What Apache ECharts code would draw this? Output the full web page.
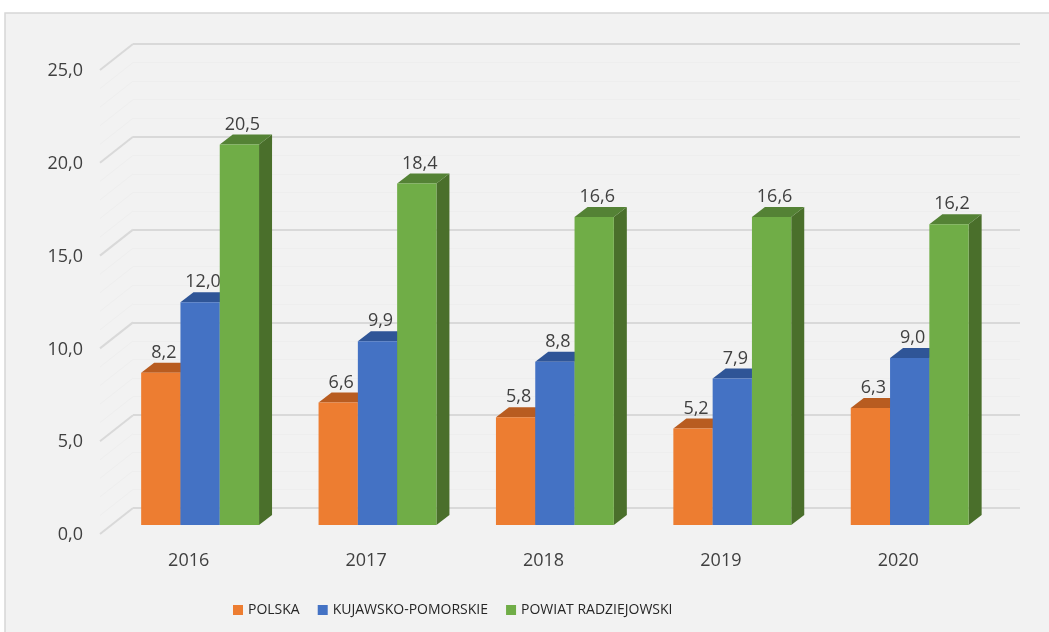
<!DOCTYPE html>
<html>
<head>
<meta charset="utf-8">
<script src="https://cdn.jsdelivr.net/npm/echarts@6/dist/echarts.min.js"></script>
<style>
  html, body { margin: 0; padding: 0; background: #fff; }
  #main { width: 1049px; height: 632px; }
</style>
</head>
<body>
<div id="main"></div>
<script>
// dane z wykresu
const years = ['2016', '2017', '2018', '2019', '2020'];
const polska = [8.2, 6.6, 5.8, 5.2, 6.3];
const kujawskoPomorskie = [12.0, 9.9, 8.8, 7.9, 9.0];
const powiatRadziejowski = [20.5, 18.4, 16.6, 16.6, 16.2];
const seriesNames = ['POLSKA', 'KUJAWSKO-POMORSKIE', 'POWIAT RADZIEJOWSKI'];
const yTicks = [0, 5, 10, 15, 20, 25];
const yMinorTicks = [1, 2, 3, 4, 6, 7, 8, 9, 11, 12, 13, 14, 16, 17, 18, 19, 21, 22, 23, 24];

// kolory: przód, góra, bok
const faceColors = [
  ['#ed7d31', '#b85c20', '#a4511b'],
  ['#4472c4', '#2f5597', '#2b4f8c'],
  ['#70ad47', '#548235', '#4a6f2b']
];

// przesunięcia efektu 3D (px)
const SHIFT_X = 21.6, SHIFT_Y = 17;   // przód słupka względem tylnej ściany
const EDGE_X = 33, EDGE_Y = 26;       // przednia krawędź podłogi
const DEPTH_X = 13, DEPTH_Y = 10;     // głębokość słupka
const FONT = '"Open Sans", sans-serif';
const TXT = '#404040';

const chart = echarts.init(document.getElementById('main'), null, { renderer: 'canvas' });

function fmt(v) {
  return v.toFixed(1).replace('.', ',');
}

// ukośne linie boczne + opcjonalnie etykiety osi Y na przedniej krawędzi
function sideLine(color, width, withLabel) {
  return function (params, api) {
    const v = api.value(1);
    const p = api.coord([0, v]);
    const x = params.coordSys.x;
    const children = [{
      type: 'line',
      shape: { x1: x, y1: p[1], x2: x - EDGE_X, y2: p[1] + EDGE_Y },
      style: { stroke: color, lineWidth: width }
    }];
    if (withLabel) {
      children.push({
        type: 'text',
        style: { text: fmt(v), x: x - 50, y: p[1] + EDGE_Y + 1, align: 'right', verticalAlign: 'middle', font: '18px ' + FONT, fill: TXT }
      });
    }
    return { type: 'group', children: children };
  };
}

function bar3d(idx) {
  const c = faceColors[idx];
  return function (params, api) {
    const cat = api.value(0), v = api.value(1);
    const band = api.size([1, 0])[0];
    const w = band * 0.2215;
    const top = api.coord([cat, v]);
    const base = api.coord([cat, 0]);
    const x0 = top[0] - SHIFT_X + (idx - 1.5) * w;
    const yT = top[1] + SHIFT_Y, yB = base[1] + SHIFT_Y;
    return {
      type: 'group',
      children: [
        { type: 'polygon', shape: { points: [[x0 + w, yT], [x0 + w + DEPTH_X, yT - DEPTH_Y], [x0 + w + DEPTH_X, yB - DEPTH_Y], [x0 + w, yB]] }, style: { fill: c[2] } },
        { type: 'polygon', shape: { points: [[x0, yT], [x0 + w, yT], [x0 + w + DEPTH_X, yT - DEPTH_Y], [x0 + DEPTH_X, yT - DEPTH_Y]] }, style: { fill: c[1] } },
        { type: 'rect', shape: { x: x0, y: yT, width: w, height: yB - yT }, style: { fill: c[0] } },
        { type: 'text', style: { text: fmt(v), x: x0 + w / 2 + 3, y: yT - 20, align: 'center', verticalAlign: 'middle', font: '18px ' + FONT, fill: TXT } }
      ]
    };
  };
}

const dataSets = [polska, kujawskoPomorskie, powiatRadziejowski];

chart.setOption({
  backgroundColor: '#ffffff',
  animation: false,
  graphic: [{
    type: 'rect', z: -100,
    shape: { x: 5, y: 13, width: 1100, height: 700 },
    style: { fill: '#f2f2f2', stroke: '#d6d6d6', lineWidth: 1.5 }
  }],
  grid: { left: 133, top: 44, width: 887, height: 464, containLabel: false },
  legend: {
    data: seriesNames,
    left: 228, top: 598,
    icon: 'rect', itemWidth: 10, itemHeight: 10, itemGap: 18,
    textStyle: { fontFamily: FONT, fontSize: 14, color: '#262626' }
  },
  xAxis: {
    type: 'category',
    data: years,
    axisLine: { show: false },
    axisTick: { show: false },
    axisLabel: { margin: 44, padding: [0, 2 * EDGE_X, 0, 0], fontFamily: FONT, fontSize: 18, color: TXT }
  },
  yAxis: {
    type: 'value',
    min: 0, max: 25, interval: 5,
    axisLine: { show: false },
    axisTick: { show: false },
    axisLabel: { show: false },
    splitLine: { lineStyle: { color: '#d9d9d9', width: 2 } },
    minorTick: { show: false, splitNumber: 5 },
    minorSplitLine: { show: true, lineStyle: { color: '#eeeeee', width: 1 } }
  },
  series: [
    { type: 'custom', name: 'minor', silent: true, z: 1, data: yMinorTicks.map(v => [0, v]), renderItem: sideLine('#eeeeee', 1, false) },
    { type: 'custom', name: 'major', silent: true, z: 1, data: yTicks.map(v => [0, v]), renderItem: sideLine('#d9d9d9', 2, true) }
  ].concat(dataSets.map((arr, i) => ({
    type: 'custom',
    name: seriesNames[i],
    color: faceColors[i][0],
    itemStyle: { color: faceColors[i][0] },
    z: 3,
    data: arr.map((v, k) => [k, v]),
    renderItem: bar3d(i)
  })))
});
</script>
</body>
</html>
